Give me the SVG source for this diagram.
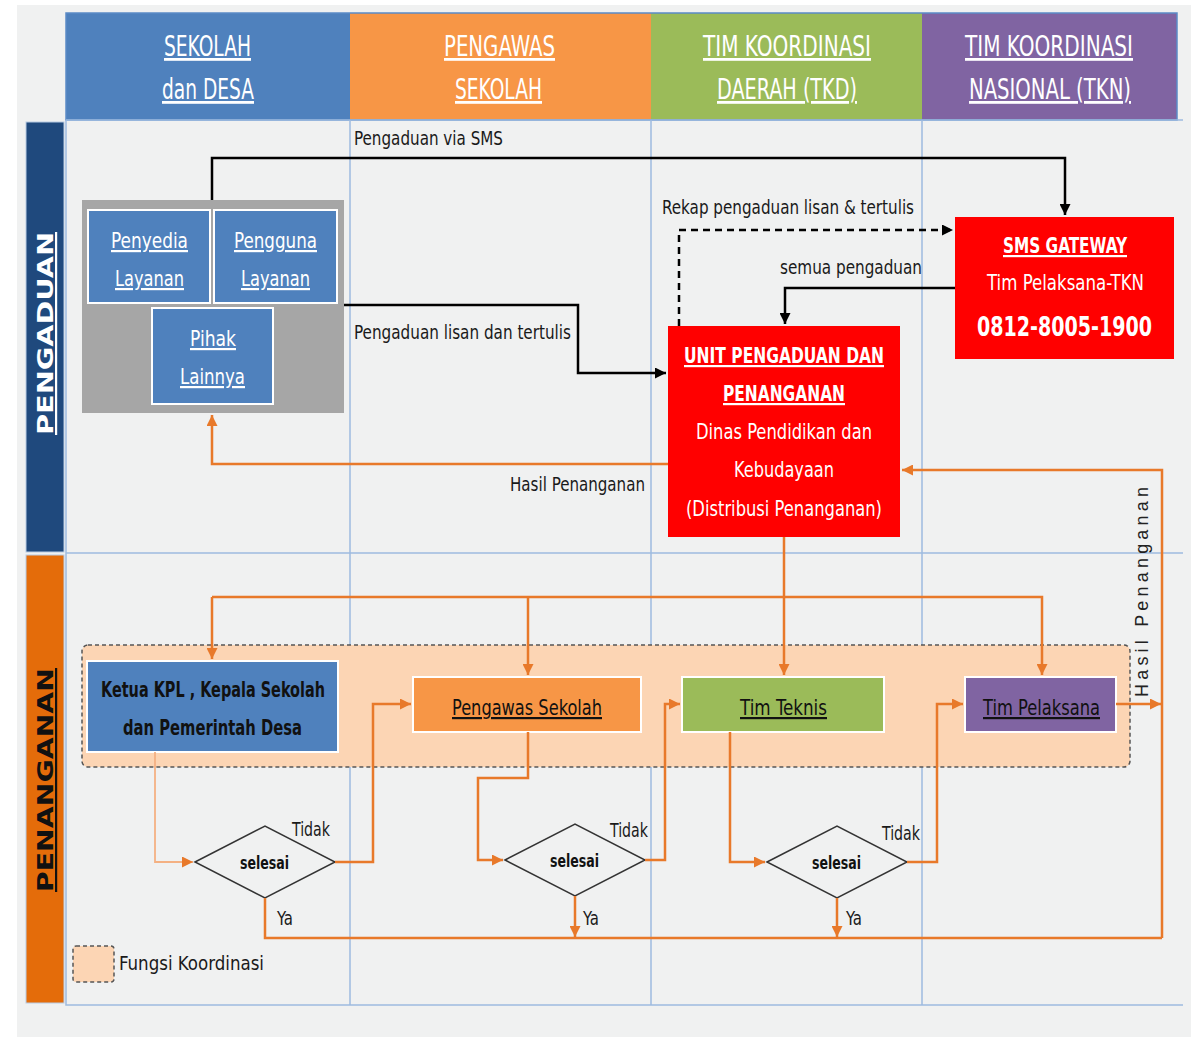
<svg xmlns="http://www.w3.org/2000/svg" width="1191" height="1037" viewBox="0 0 1191 1037">
<style>
.t{font-family:"Liberation Sans Narrow","DejaVu Sans Condensed","Liberation Sans",sans-serif;}
.hd{font-size:28px;fill:#fff;text-decoration:underline;}
.lb{font-size:20px;fill:#1a1a1a;}
.nw{font-size:22px;fill:#fff;text-decoration:underline;}
.rw{font-size:22px;fill:#fff;}
.bk{font-size:22px;fill:#111;}
.bl{stroke:#000;stroke-width:2.5;fill:none;}
.or{stroke:#e8792a;stroke-width:2.5;fill:none;}
.grid{stroke:#9dbbe0;stroke-width:1.5;fill:none;}
.dia{fill:#f0f1f1;stroke:#333;stroke-width:1.5;}
</style>
<defs>
<marker id="ab" viewBox="0 0 10 10" refX="10" refY="5" markerWidth="11" markerHeight="11" markerUnits="userSpaceOnUse" orient="auto"><path d="M0,0 L10,5 L0,10 z" fill="#000"/></marker>
<marker id="ao" viewBox="0 0 10 10" refX="10" refY="5" markerWidth="11" markerHeight="11" markerUnits="userSpaceOnUse" orient="auto"><path d="M0,0 L10,5 L0,10 z" fill="#e8792a"/></marker>
</defs>
<rect x="0" y="0" width="1191" height="1037" fill="#fff"/>
<rect x="17" y="5" width="1174" height="1032" fill="#f0f1f1"/>

<g id="header">
<rect x="66" y="13" width="284" height="107" fill="#4f81bd"/>
<rect x="350" y="13" width="301" height="107" fill="#f79646"/>
<rect x="651" y="13" width="271" height="107" fill="#9bbb59"/>
<rect x="922" y="13" width="255" height="107" fill="#8064a2"/>
<rect x="66" y="13" width="1111" height="107" fill="none" stroke="#5b8bc6" stroke-width="1.5"/>
<text class="t hd" x="164" y="56" textLength="87" lengthAdjust="spacingAndGlyphs">SEKOLAH</text>
<text class="t hd" x="162" y="99" textLength="92" lengthAdjust="spacingAndGlyphs">dan DESA</text>
<text class="t hd" x="444" y="56" textLength="111" lengthAdjust="spacingAndGlyphs">PENGAWAS</text>
<text class="t hd" x="455" y="99" textLength="87" lengthAdjust="spacingAndGlyphs">SEKOLAH</text>
<text class="t hd" x="703" y="56" textLength="168" lengthAdjust="spacingAndGlyphs">TIM KOORDINASI</text>
<text class="t hd" x="717" y="99" textLength="140" lengthAdjust="spacingAndGlyphs">DAERAH (TKD)</text>
<text class="t hd" x="965" y="56" textLength="168" lengthAdjust="spacingAndGlyphs">TIM KOORDINASI</text>
<text class="t hd" x="969" y="99" textLength="162" lengthAdjust="spacingAndGlyphs">NASIONAL (TKN)</text>
</g>

<g id="lanes">
<rect x="26" y="122" width="38" height="430" fill="#1f497d" stroke="#b8cce4" stroke-width="1"/>
<rect x="26" y="555" width="38" height="448" fill="#e46c0a" stroke="#b8cce4" stroke-width="1"/>
<text class="t" font-size="22" font-weight="bold" fill="#fff" text-decoration="underline" transform="translate(53,435) rotate(-90)" textLength="203" lengthAdjust="spacingAndGlyphs">PENGADUAN</text>
<text class="t" font-size="22" font-weight="bold" fill="#111" text-decoration="underline" transform="translate(53,892) rotate(-90)" textLength="224" lengthAdjust="spacingAndGlyphs">PENANGANAN</text>
<path class="grid" d="M66,120 V1005 H1183 M66,120 H1183 M66,553 H1183"/>
<path class="grid" d="M350,120 V1005 M651,120 V1005 M922,120 V1005" stroke-width="1.2"/>
</g>

<g id="group-pengadu">
<rect x="82" y="200" width="262" height="213" fill="#a6a6a6"/>
</g>
<g id="penyedia">
<rect x="88" y="210" width="122" height="93" fill="#4f81bd" stroke="#fff" stroke-width="2"/>
<text class="t nw" x="111" y="248" textLength="77" lengthAdjust="spacingAndGlyphs">Penyedia</text>
<text class="t nw" x="115" y="286" textLength="69" lengthAdjust="spacingAndGlyphs">Layanan</text>
</g>
<g id="pengguna">
<rect x="214" y="210" width="123" height="93" fill="#4f81bd" stroke="#fff" stroke-width="2"/>
<text class="t nw" x="234" y="248" textLength="83" lengthAdjust="spacingAndGlyphs">Pengguna</text>
<text class="t nw" x="241" y="286" textLength="69" lengthAdjust="spacingAndGlyphs">Layanan</text>
</g>
<g id="pihak">
<rect x="152" y="308" width="121" height="96" fill="#4f81bd" stroke="#fff" stroke-width="2"/>
<text class="t nw" x="190" y="346" textLength="46" lengthAdjust="spacingAndGlyphs">Pihak</text>
<text class="t nw" x="180" y="384" textLength="65" lengthAdjust="spacingAndGlyphs">Lainnya</text>
</g>

<g id="sms">
<rect x="955" y="217" width="219" height="142" fill="#ff0000"/>
<text class="t rw" x="1003" y="253" font-weight="bold" text-decoration="underline" textLength="124" lengthAdjust="spacingAndGlyphs">SMS GATEWAY</text>
<text class="t rw" x="987" y="290" textLength="157" lengthAdjust="spacingAndGlyphs">Tim Pelaksana-TKN</text>
<text class="t" x="1064.5" y="336" text-anchor="middle" font-size="26" font-weight="bold" fill="#fff" textLength="175" lengthAdjust="spacingAndGlyphs">0812-8005-1900</text>
</g>

<g id="unit">
<rect x="668" y="326" width="232" height="211" fill="#ff0000"/>
<text class="t rw" x="684" y="363" font-weight="bold" text-decoration="underline" textLength="200" lengthAdjust="spacingAndGlyphs">UNIT PENGADUAN DAN</text>
<text class="t rw" x="723" y="401" font-weight="bold" text-decoration="underline" textLength="122" lengthAdjust="spacingAndGlyphs">PENANGANAN</text>
<text class="t rw" x="696" y="439" textLength="176" lengthAdjust="spacingAndGlyphs">Dinas Pendidikan dan</text>
<text class="t rw" x="734" y="477" textLength="100" lengthAdjust="spacingAndGlyphs">Kebudayaan</text>
<text class="t rw" x="686" y="516" textLength="196" lengthAdjust="spacingAndGlyphs">(Distribusi Penanganan)</text>
</g>

<g id="koordinasi">
<rect x="82" y="645" width="1048" height="122" rx="6" fill="#fcd5b4" stroke="#555" stroke-width="1.5" stroke-dasharray="4,3"/>
</g>
<g id="ketua">
<rect x="87" y="661" width="251" height="91" fill="#4f81bd" stroke="#fff" stroke-width="2"/>
<text class="t bk" x="101" y="697" font-weight="bold" textLength="224" lengthAdjust="spacingAndGlyphs">Ketua KPL , Kepala Sekolah</text>
<text class="t bk" x="123" y="735" font-weight="bold" textLength="179" lengthAdjust="spacingAndGlyphs">dan Pemerintah Desa</text>
</g>
<g id="pengawas">
<rect x="413" y="677" width="228" height="55" fill="#f79646" stroke="#fff" stroke-width="2"/>
<text class="t bk" x="452" y="715" text-decoration="underline" textLength="150" lengthAdjust="spacingAndGlyphs">Pengawas Sekolah</text>
</g>
<g id="teknis">
<rect x="682" y="677" width="202" height="55" fill="#9bbb59" stroke="#fff" stroke-width="2"/>
<text class="t bk" x="740" y="715" text-decoration="underline" textLength="87" lengthAdjust="spacingAndGlyphs">Tim Teknis</text>
</g>
<g id="pelaksana">
<rect x="965" y="677" width="151" height="55" fill="#8064a2" stroke="#fff" stroke-width="2"/>
<text class="t bk" x="983" y="715" text-decoration="underline" textLength="117" lengthAdjust="spacingAndGlyphs">Tim Pelaksana</text>
</g>

<g id="diamond1">
<polygon class="dia" points="195,862 265,826 335,862 265,898"/>
<text class="t" x="240" y="869" font-size="18" font-weight="bold" fill="#111" textLength="49" lengthAdjust="spacingAndGlyphs">selesai</text>
</g>
<g id="diamond2">
<polygon class="dia" points="505,860 575,824 645,860 575,896"/>
<text class="t" x="550" y="867" font-size="18" font-weight="bold" fill="#111" textLength="49" lengthAdjust="spacingAndGlyphs">selesai</text>
</g>
<g id="diamond3">
<polygon class="dia" points="767,862 837,826 907,862 837,898"/>
<text class="t" x="812" y="869" font-size="18" font-weight="bold" fill="#111" textLength="49" lengthAdjust="spacingAndGlyphs">selesai</text>
</g>

<g id="connectors">
<path class="bl" d="M212,200 V158 H1065 V215" marker-end="url(#ab)"/>
<path class="bl" d="M344,305 H578 V373 H666" marker-end="url(#ab)"/>
<path class="bl" d="M679,326 V230 H953" stroke-dasharray="7,5" marker-end="url(#ab)"/>
<path class="bl" d="M955,288 H785 V324" marker-end="url(#ab)"/>
<path class="or" d="M668,464 H212 V415" marker-end="url(#ao)"/>
<path class="or" d="M784,537 V675" marker-end="url(#ao)"/>
<path class="or" d="M212,597 H1042 V675" marker-end="url(#ao)"/>
<path class="or" d="M212,597 V659" marker-end="url(#ao)"/>
<path class="or" d="M528,597 V675" marker-end="url(#ao)"/>
<path class="or" d="M1116,704 H1161" marker-end="url(#ao)"/>
<path class="or" d="M1162,938 V470 H902" marker-end="url(#ao)"/>
<path d="M155,752 V862 H193" fill="none" stroke="#f4b183" stroke-width="1.8" marker-end="url(#ao)"/>
<path class="or" d="M335,862 H373 V704 H411" marker-end="url(#ao)"/>
<path class="or" d="M528,732 V778 H478 V860 H503" marker-end="url(#ao)"/>
<path class="or" d="M645,860 H665 V704 H680" marker-end="url(#ao)"/>
<path class="or" d="M730,732 V862 H765" marker-end="url(#ao)"/>
<path class="or" d="M907,862 H937 V704 H963" marker-end="url(#ao)"/>
<path class="or" d="M265,898 V938 H1162"/>
<path class="or" d="M575,896 V937" marker-end="url(#ao)"/>
<path class="or" d="M837,898 V937" marker-end="url(#ao)"/>
</g>

<g id="labels">
<text class="t lb" x="354" y="145" textLength="149" lengthAdjust="spacingAndGlyphs">Pengaduan via SMS</text>
<text class="t lb" x="354" y="339" textLength="217" lengthAdjust="spacingAndGlyphs">Pengaduan lisan dan tertulis</text>
<text class="t lb" x="662" y="214" textLength="252" lengthAdjust="spacingAndGlyphs">Rekap pengaduan lisan &amp; tertulis</text>
<text class="t lb" x="780" y="274" textLength="142" lengthAdjust="spacingAndGlyphs">semua pengaduan</text>
<text class="t lb" x="510" y="491" textLength="135" lengthAdjust="spacingAndGlyphs">Hasil Penanganan</text>
<text font-family="'Liberation Sans',Arial,sans-serif" font-size="18" fill="#222" transform="translate(1148,697) rotate(-90)" textLength="210" lengthAdjust="spacing">Hasil Penanganan</text>
<text class="t lb" x="292" y="836" font-size="18" textLength="38" lengthAdjust="spacingAndGlyphs">Tidak</text>
<text class="t lb" x="610" y="837" font-size="18" textLength="38" lengthAdjust="spacingAndGlyphs">Tidak</text>
<text class="t lb" x="882" y="840" font-size="18" textLength="38" lengthAdjust="spacingAndGlyphs">Tidak</text>
<text class="t lb" x="277" y="925" font-size="18" textLength="16" lengthAdjust="spacingAndGlyphs">Ya</text>
<text class="t lb" x="583" y="925" font-size="18" textLength="16" lengthAdjust="spacingAndGlyphs">Ya</text>
<text class="t lb" x="846" y="925" font-size="18" textLength="16" lengthAdjust="spacingAndGlyphs">Ya</text>
</g>

<g id="legend">
<rect x="73" y="946" width="41" height="36" rx="3" fill="#fcd5b4" stroke="#555" stroke-width="1.5" stroke-dasharray="4,3"/>
<text class="t lb" x="119" y="970" textLength="145" lengthAdjust="spacingAndGlyphs">Fungsi Koordinasi</text>
</g>
</svg>
